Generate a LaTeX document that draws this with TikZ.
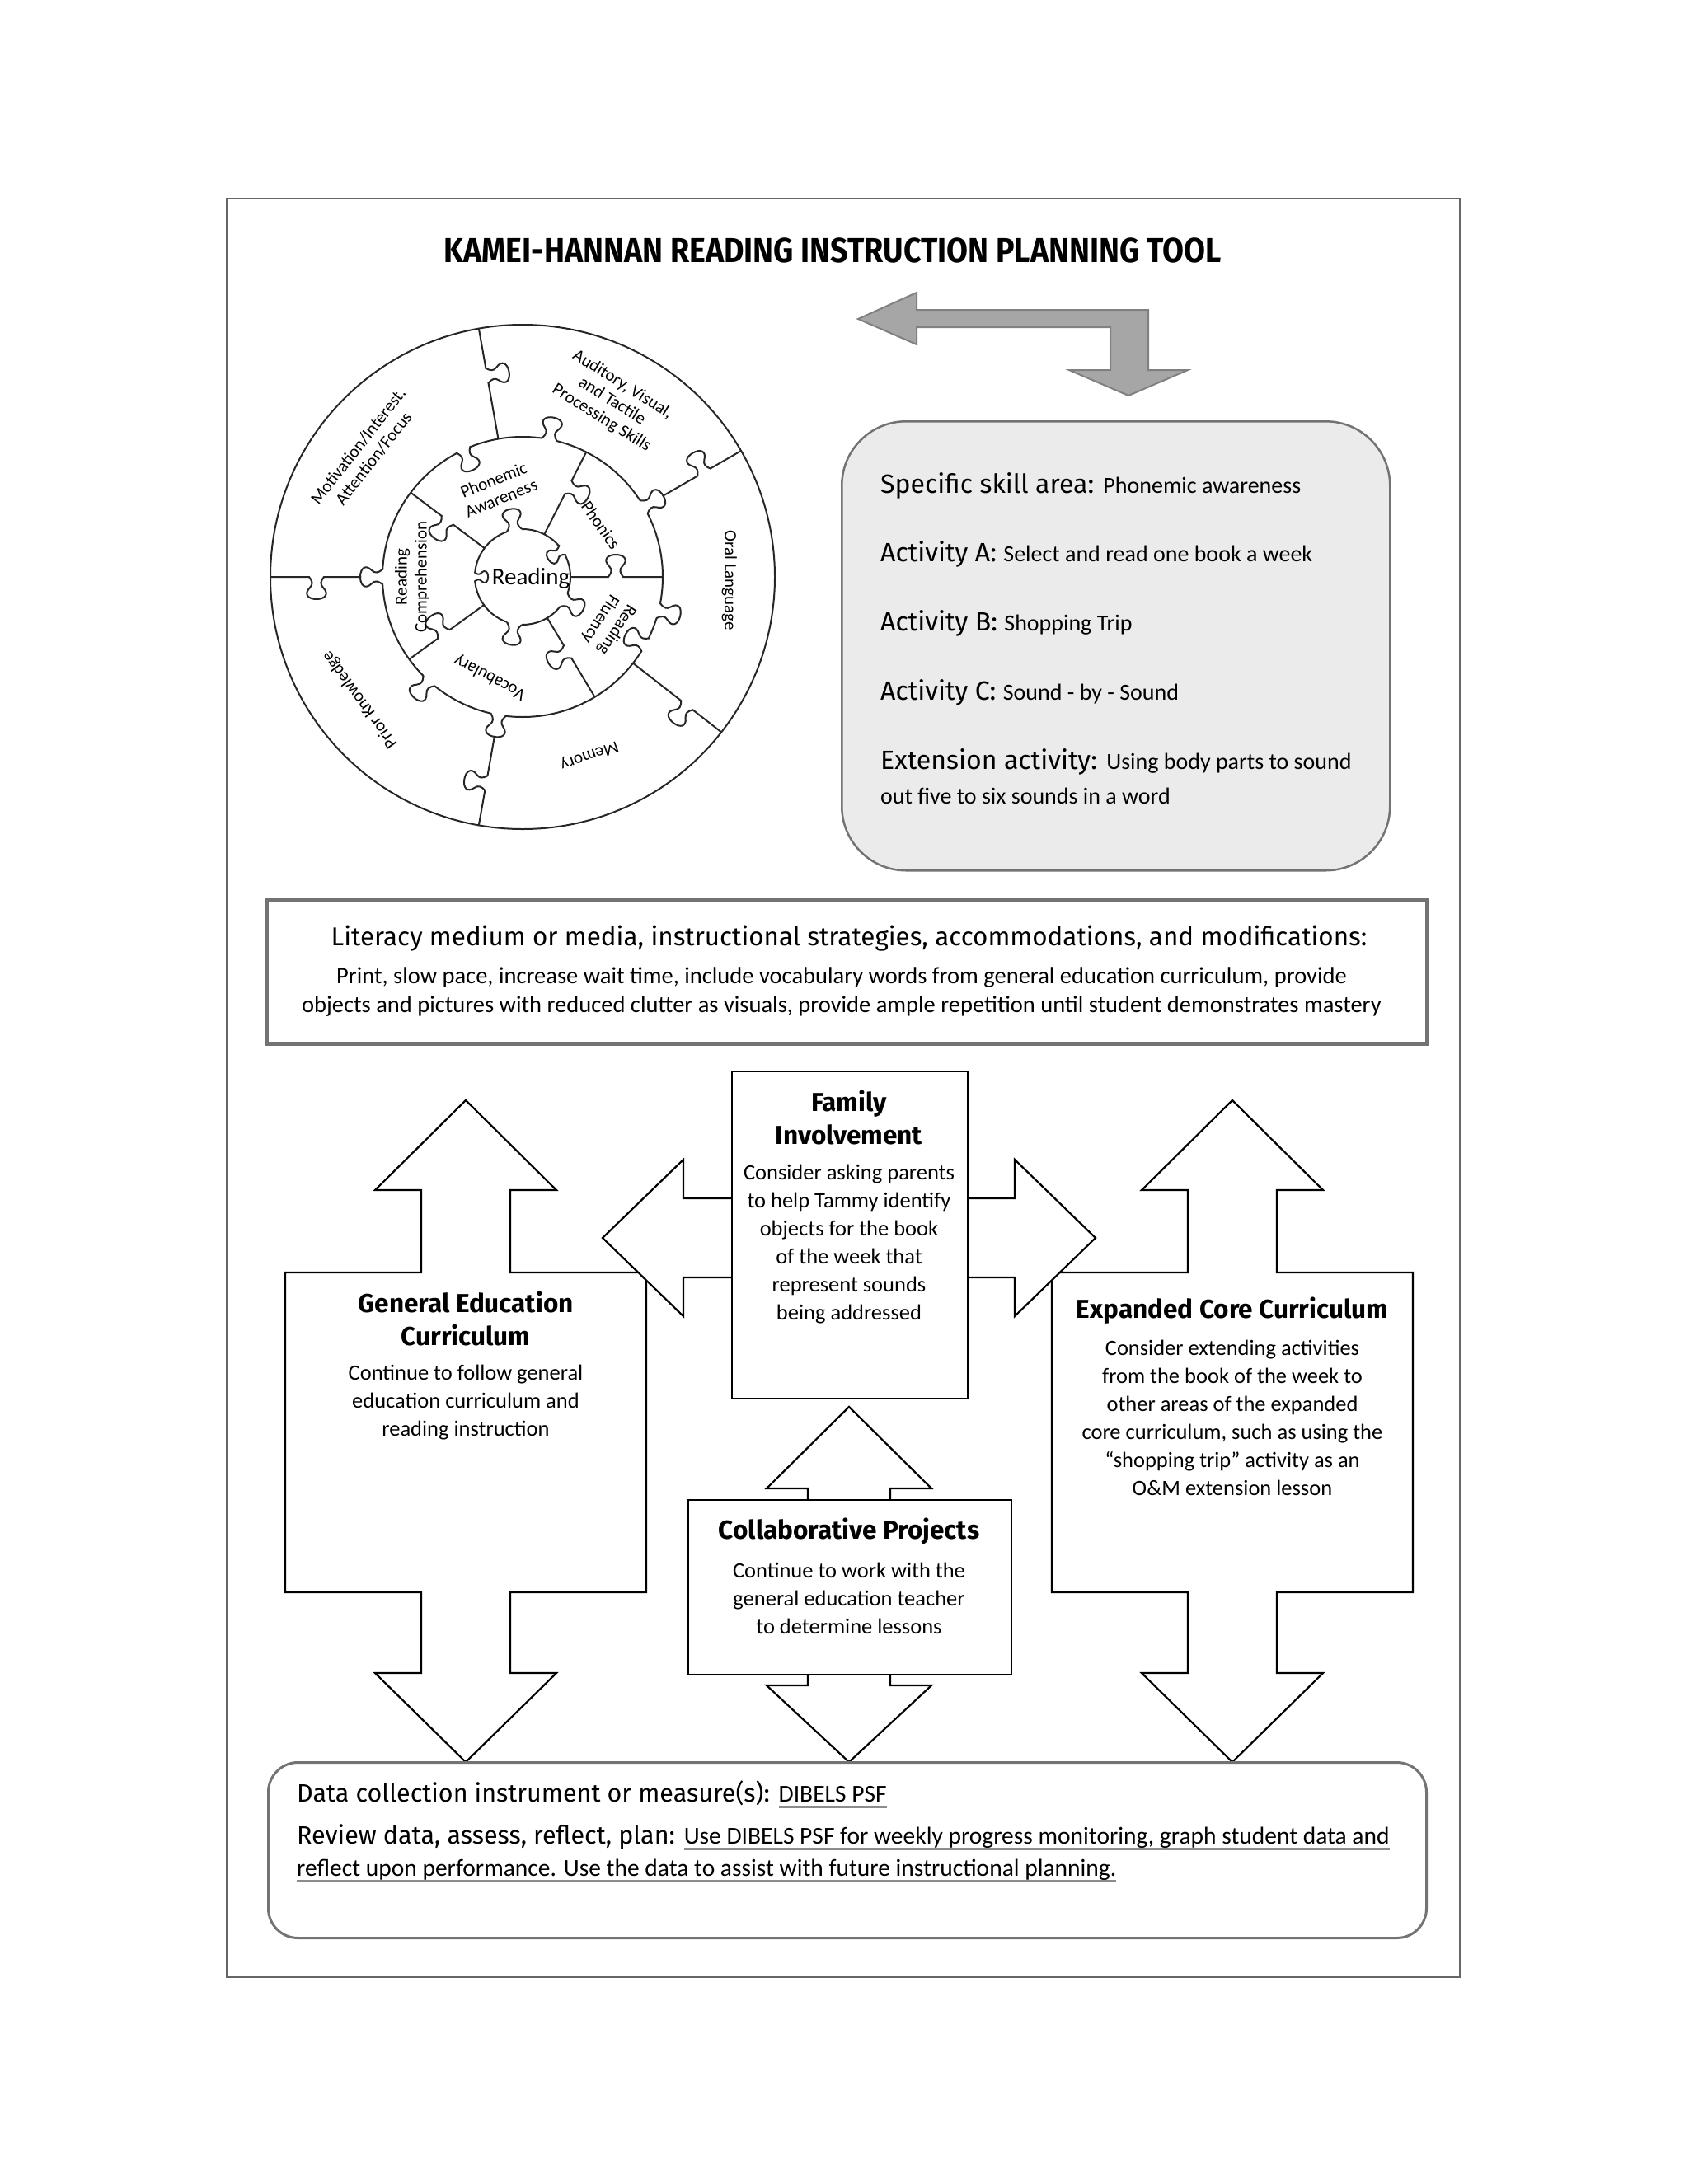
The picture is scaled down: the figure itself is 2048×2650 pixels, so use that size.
\documentclass[tikz,border=0pt]{standalone}
\usepackage{fontspec}
\usepackage{graphicx}
\setmainfont{Fira Sans}
\newfontfamily\hwfont{Carlito}
\newfontfamily\pzfont{Carlito}
\usetikzlibrary{calc}
\newlength\ulw
\newcommand\gul[1]{\settowidth\ulw{#1}\rlap{\color{black!45}\rule[-7pt]{\ulw}{2.2pt}}#1}
\newcommand\hw[1]{{\hwfont\fontsize{28}{34}\selectfont #1}}
\newcommand\hwd[1]{{\hwfont\fontsize{29.5}{34}\selectfont #1}}
% radial puzzle edge: angle, r1, r2, knob centre radius, side
\newcommand\raddiv[5]{%
\begin{scope}[rotate=#1, yscale=#5]
\draw[pz] (#2,0) -- ({#4-9},0) .. controls ({#4-5},5) and ({#4-4},9) .. ({#4-8},13)
 .. controls ({#4-16},21) and ({#4-10},27) .. (#4,27)
 .. controls ({#4+10},27) and ({#4+16},21) .. ({#4+8},13)
 .. controls ({#4+4},9) and ({#4+5},5) .. ({#4+9},0) -- (#3,0);
\end{scope}}
% knob on a circle: radius, angle, side (1 out, -1 in), size factor
\newcommand\cknob[4]{%
\begin{scope}[rotate=#2, shift={(#1,0)}, rotate=-90, yscale=#3, scale=#4]
\draw[white, line width=5pt] (-9.5,0) -- (9.5,0);
\draw[pz] (-10,0) -- (-9,0) .. controls (-5,5) and (-4,9) .. (-8,13)
 .. controls (-16,21) and (-10,27) .. (0,27)
 .. controls (10,27) and (16,21) .. (8,13)
 .. controls (4,9) and (5,5) .. (9,0) -- (10,0);
\end{scope}}
\begin{document}
\begin{tikzpicture}[x=1pt,y=-1pt,
  pz/.style={line width=2pt, draw=black!85},
  pzt/.style={font=\pzfont\fontsize{21}{24}\selectfont, align=center, inner sep=0},
  lbl/.style={font=\fontsize{32}{38}\selectfont, inner sep=0, text height=24pt, text depth=8pt},
  dlbl/.style={font=\fontsize{30.5}{34}\selectfont, inner sep=0, text height=23pt, text depth=8pt},
  barrow/.style={draw=black, line width=2.2pt, fill=white, line join=miter},
  hd/.style={font=\bfseries\fontsize{31.5}{40}\selectfont, align=center, inner sep=0},
  bd/.style={font=\hwfont\fontsize{26.5}{34}\selectfont, align=center, inner sep=0},
  garrow/.style={draw=black!50, line width=2pt, fill=black!35, line join=miter}]
\useasboundingbox (0,0) rectangle (2048,2650);
\fill[white] (0,0) rectangle (2048,2650);
% frame
\draw[black!60, line width=2pt] (275,241) rectangle (1771,2399);
% title
\node[inner sep=0] (title) at (1010,304) {\scalebox{0.895}[1]{\fontsize{42}{50}\selectfont\bfseries KAMEI-HANNAN READING INSTRUCTION PLANNING TOOL}};
% grey bent arrow
\draw[garrow] (1041,387) -- (1112,355) -- (1112,376) -- (1393,376) -- (1393,449) -- (1441,449)
  -- (1369,480) -- (1297,449) -- (1347,449) -- (1347,397) -- (1112,397) -- (1112,418) -- cycle;
% skill box
\node[draw=black!55, line width=2.5pt, fill=black!8, rounded corners=78pt, minimum width=665pt,
  minimum height=545pt, anchor=north west, inner sep=0] (skill) at (1020,510) {};
\node[lbl, anchor=west] (s1) at (1068,590) {Specific skill area: \hw{Phonemic awareness}};
\node[lbl, anchor=west] (s2) at (1068,673) {Activity A: \hw{Select and read one book a week}};
\node[lbl, anchor=west] (s3) at (1068,757) {Activity B: \hw{Shopping Trip}};
\node[lbl, anchor=west] (s4) at (1068,841) {Activity C: \hw{Sound - by - Sound}};
\node[lbl, anchor=west] (s5) at (1068,925) {Extension activity: \hw{Using body parts to sound}};
\node[lbl, anchor=west] (s6) at (1068,967) {\hw{out five to six sounds in a word}};
% puzzle
\begin{scope}[shift={(634,700)}, y=1pt]
 \draw[pz] (0,0) circle (306);
 \draw[pz] (0,0) circle (170);
 \draw[pz] (0,0) circle (58);
 \cknob{170}{79}{1}{1}
 \cknob{170}{115}{-1}{1}
 \cknob{170}{30}{1}{1}
 \cknob{170}{-14}{1}{1}
 \cknob{170}{-29}{-1}{1}
 \cknob{170}{-100}{1}{1}
 \cknob{170}{228}{1}{1}
 \cknob{170}{180}{1}{1}
 \cknob{58}{100}{1}{0.95}
 \cknob{58}{34}{-1}{0.75}
 \cknob{58}{-29}{1}{0.95}
 \cknob{58}{-100}{1}{0.95}
 \cknob{58}{180}{-1}{0.6}
 \raddiv{100}{170}{306}{248}{-1}
 \raddiv{30}{196}{306}{254}{1}
 \raddiv{-38}{170}{306}{253}{-1}
 \raddiv{-100}{196}{306}{254}{-1}
 \raddiv{180}{196}{306}{250}{1}
 \raddiv{143}{58}{170}{114}{1}
 \raddiv{63}{58}{170}{122}{-1}
 \raddiv{0}{58}{170}{113}{1}
 \raddiv{-59}{58}{170}{106}{-1}
 \raddiv{216}{58}{170}{118}{-1}
 \node[pzt, rotate=-32] (aud) at (63:239) {Auditory, Visual,\\and Tactile\\Processing Skills};
 \node[pzt, rotate=52] (mot) at (141.5:243) {Motivation/Interest,\\Attention/Focus};
 \node[pzt, rotate=-90] (oral) at (-1:251) {Oral Language};
 \node[pzt, rotate=200] (mem) at (-69.5:231) {Memory};
 \node[pzt, rotate=126] (prior) at (217:247) {Prior Knowledge};
 \node[pzt, rotate=22] (pa) at (106:111) {Phonemic\\Awareness};
 \node[pzt, rotate=-55] (phon) at (33.5:114) {Phonics};
 \node[pzt, rotate=237] (flu) at (-29:119) {Reading\\Fluency};
 \node[pzt, rotate=152] (voc) at (-108:128) {Vocabulary};
 \node[pzt, rotate=90] (rc) at (180:134) {Reading\\Comprehension};
 \node[inner sep=0, font=\pzfont\fontsize{29}{34}\selectfont] (read) at (10,-2) {Reading};
\end{scope}
% literacy box
\node[draw=black!55, line width=5pt, minimum width=1408pt, minimum height=174pt, anchor=north west, inner sep=0] (lit) at (321,1090) {};
\node[inner sep=0, font=\fontsize{31.4}{36}\selectfont] (lit1) at (1030,1139) {Literacy medium or media, instructional strategies, accommodations, and modifications:};
\node[inner sep=0, align=center, font=\hwfont\fontsize{28.5}{35}\selectfont] (lit2) at (1021,1204) {Print, slow pace, increase wait time, include vocabulary words from general education curriculum, provide\\objects and pictures with reduced clutter as visuals, provide ample repetition until student demonstrates mastery};
% big double arrows
\draw[barrow] (565,1335) -- (675,1444) -- (619,1444) -- (619,1544) -- (784,1544) -- (784,1932) -- (619,1932) -- (619,2030) -- (675,2030) -- (565,2138) -- (455,2030) -- (511,2030) -- (511,1932) -- (346,1932) -- (346,1544) -- (511,1544) -- (511,1444) -- (455,1444) -- cycle;
\draw[barrow] (1495,1335) -- (1605,1444) -- (1549,1444) -- (1549,1544) -- (1714,1544) -- (1714,1932) -- (1549,1932) -- (1549,2030) -- (1605,2030) -- (1495,2138) -- (1385,2030) -- (1441,2030) -- (1441,1932) -- (1276,1932) -- (1276,1544) -- (1441,1544) -- (1441,1444) -- (1385,1444) -- cycle;
\draw[barrow] (731,1502) -- (829,1407) -- (829,1454) -- (1231,1454) -- (1231,1407) -- (1329,1502) -- (1231,1597) -- (1231,1550) -- (829,1550) -- (829,1597) -- cycle;
\node[draw, line width=2.2pt, fill=white, minimum width=286pt, minimum height=397pt, anchor=north west, inner sep=0] (fam) at (887,1299) {};
\draw[barrow] (1030,1707) -- (1130,1806) -- (1080,1806) -- (1080,2045) -- (1130,2045) -- (1030,2138) -- (930,2045) -- (980,2045) -- (980,1806) -- (930,1806) -- cycle;
\node[draw, line width=2.2pt, fill=white, minimum width=392pt, minimum height=212pt, anchor=north west, inner sep=0] (col) at (834,1819) {};
% texts in arrows
\node[hd] (geh) at (565,1600) {General Education\\Curriculum};
\node[bd] (geb) at (565,1702) {Continue to follow general\\education curriculum and\\reading instruction};
\node[hd] (famh) at (1030,1356) {Family\\Involvement};
\node[bd] (famb) at (1030,1510) {Consider asking parents\\to help Tammy identify\\objects for the book\\of the week that\\represent sounds\\being addressed};
\node[hd] (ecch) at (1495,1590) {Expanded Core Curriculum};
\node[bd] (eccb) at (1495,1720) {Consider extending activities\\from the book of the week to\\other areas of the expanded\\core curriculum, such as using the\\“shopping trip” activity as an\\O\&M extension lesson};
\node[hd] (colh) at (1030,1858) {Collaborative Projects};
\node[bd] (colb) at (1030,1939) {Continue to work with the\\general education teacher\\to determine lessons};
% data box
\node[draw=black!55, line width=3pt, fill=white, rounded corners=36pt, minimum width=1405pt, minimum height=213pt, anchor=north west, inner sep=0] (data) at (324,2137) {};
\node[dlbl, anchor=west] (d1) at (360,2179) {Data collection instrument or measure(s): \hwd{\gul{DIBELS PSF}}};
\node[dlbl, anchor=west] (d2) at (360,2230) {Review data, assess, reflect, plan: \hwd{\gul{Use DIBELS PSF for weekly progress monitoring, graph student data and}}};
\node[dlbl, anchor=west] (d3) at (360,2269) {\hwd{\gul{reflect upon performance. Use the data to assist with future instructional planning.}}};
\end{tikzpicture}
\end{document}
